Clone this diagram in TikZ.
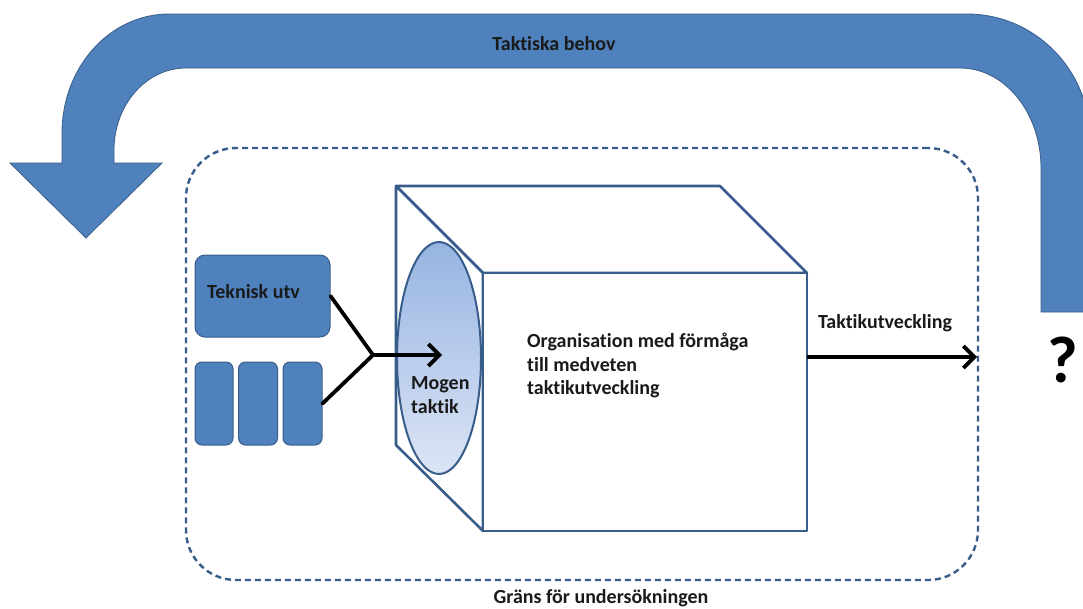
\documentclass[tikz,border=0pt]{standalone}
\usepackage{fontspec}
\setmainfont{Carlito}[RawFeature={-liga}]
\usetikzlibrary{shapes.geometric,arrows.meta}
\definecolor{bfill}{HTML}{4F81BD}
\definecolor{bline}{HTML}{385D8A}
\definecolor{ellA}{HTML}{97B4E2}
\definecolor{ellB}{HTML}{DCE5F5}
\definecolor{txt}{HTML}{1A1A1A}
\begin{document}
\begin{tikzpicture}[x=1pt,y=-1pt,
  lbl/.style={text=txt,font=\fontsize{20}{23.5}\selectfont\bfseries,inner sep=0pt},
  bluebox/.style={draw=bline,fill=bfill,line width=1pt,rounded corners=10pt},
  cubeline/.style={draw=bline,line width=2.6pt,fill=white,line join=round},
  blk/.style={draw=black,line width=3.8pt},
  arr/.style={blk,-{Straight Barb[length=11pt,width=22pt]}},
  border/.style={draw=bline,line width=2.4pt,dash pattern=on 6pt off 4pt,rounded corners=50pt}
]
\useasboundingbox (0,0) rectangle (1083,608);
\clip (0,0) rectangle (1083,608);
% big U-turn arrow
\draw[fill=bfill,draw=bline,line width=0.8pt]
  (1041,312) -- (1041,168) .. controls (1041,113) and (1005,68) .. (960,68)
  -- (186,68) .. controls (146,68) and (114,105) .. (114,150)
  -- (114,163) -- (162,163) -- (86,238) -- (10,163) -- (62,163)
  -- (62,133) .. controls (62,67) and (110,14) .. (169,14)
  -- (967,14) .. controls (1035,14) and (1090,70) .. (1090,139)
  -- (1090,312) -- cycle;
\node[lbl] (behov) at (554,44) {Taktiska behov};
% boundary
\node[border,minimum width=792pt,minimum height=432pt] (grans) at (582,364) {};
\node[lbl] (granstxt) at (601,598) {Gräns för undersökningen};
% cube
\draw[cubeline] (396,186) -- (720,186) -- (807,273) -- (483,273) -- cycle;
\draw[cubeline] (396,186) -- (483,273) -- (483,531) -- (396,445) -- cycle;
\node[cubeline,minimum width=324pt,minimum height=258pt,inner sep=0pt] (front) at (645,402) {};
\node[ellipse,draw=bline,line width=2pt,top color=ellA,bottom color=ellB,
      minimum width=84pt,minimum height=232pt,inner sep=0pt] (ell) at (439,358) {};
\node[lbl,anchor=west,align=left] (mogen) at (411,395) {Mogen\\taktik};
\node[lbl,anchor=west,align=left] (org) at (527,365.5) {Organisation med förmåga\\till medveten\\taktikutveckling};
% input boxes
\node[bluebox,minimum width=135pt,minimum height=82pt] (tek) at (262.5,296) {};
\node[lbl,anchor=west] (tektxt) at (207,292) {Teknisk utv};
\node[bluebox,rounded corners=7pt,minimum width=38pt,minimum height=83pt] (b1) at (214,403.5) {};
\node[bluebox,rounded corners=7pt,minimum width=39pt,minimum height=83pt] (b2) at (258,403.5) {};
\node[bluebox,rounded corners=7pt,minimum width=39pt,minimum height=83pt] (b3) at (302.5,403.5) {};
% connectors
\coordinate (j) at (373,355);
\coordinate (mtip) at (442,355);
\draw[blk,line cap=round] (tek.east) -- (j) -- (b3.east);
\draw[arr] (j) -- (mtip);
\coordinate (tkstart) at (807,357);
\coordinate (tkend) at (977,357);
\draw[arr] (tkstart) -- (tkend);
\node[lbl] (tktxt) at (885,323) {Taktikutveckling};
\node[text=black,font=\fontsize{66}{66}\selectfont\bfseries,inner sep=0pt] (q) at (1063,360) {?};
\end{tikzpicture}
\end{document}
